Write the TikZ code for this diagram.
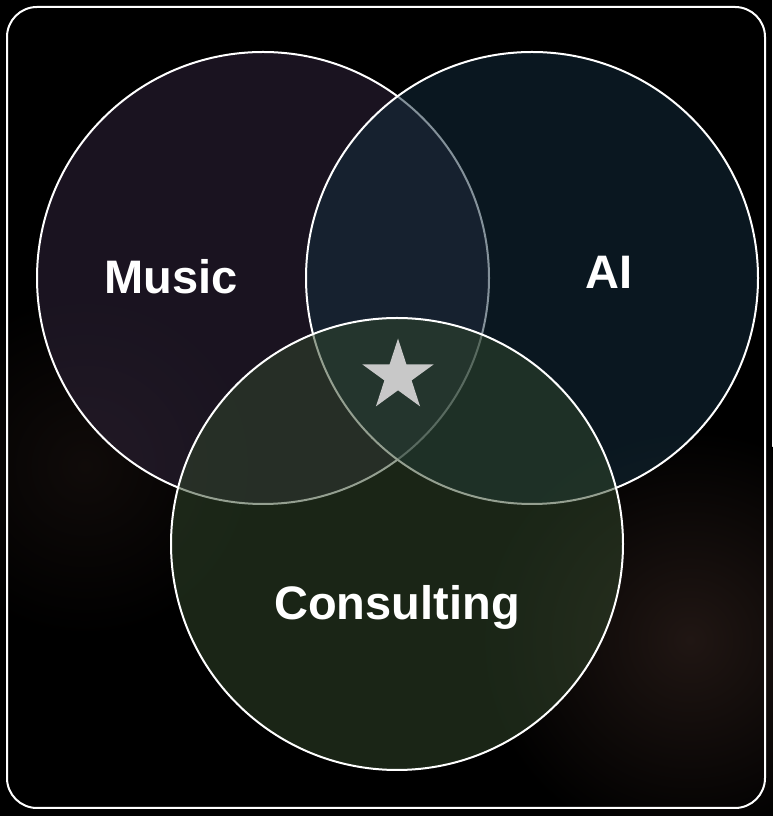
\documentclass[tikz,border=0pt]{standalone}
\usepackage{fontspec}
\setmainfont{Liberation Sans}
\usetikzlibrary{shapes.geometric}

\definecolor{musicfill}{RGB}{50,38,62}
\definecolor{aifill}{RGB}{20,46,62}
\definecolor{consultfill}{RGB}{50,72,44}
\definecolor{glow}{RGB}{32,22,19}
\definecolor{stargray}{RGB}{200,200,200}

\begin{document}
\begin{tikzpicture}[x=1pt, y=1pt,
    venn/.style={circle, draw=white, line width=2pt, fill opacity=0.52, minimum size=452pt, inner sep=0pt},
    vlabel/.style={text=white, font=\fontsize{47}{52}\selectfont\bfseries, anchor=base}]
  \useasboundingbox (0,0) rectangle (772,816);
  \fill[black] (0,0) rectangle (772,816);
  % faint glows behind
  \shade[inner color=glow, outer color=black] (690,176) circle (210);
  \shade[inner color=glow!50!black, outer color=black] (85,350) circle (170);
  % frame
  \draw[white, line width=2pt, rounded corners=30pt] (7,8) rectangle (765,809);
  % the three sets
  \node[venn, fill=musicfill] (music) at (263,538) {};
  \node[venn, fill=aifill] (ai) at (532,538) {};
  \node[venn, fill=consultfill] (consult) at (397,272) {};
  \node[vlabel] (musiclbl) at (171,522) {Music};
  \node[vlabel] (ailbl) at (609,527) {AI};
  \node[vlabel] (consultlbl) at (397,196) {Consulting};
  \node[star, star points=5, star point ratio=2.618, fill=stargray, inner sep=0pt, minimum size=75pt] (spark) at (398,440) {};
\end{tikzpicture}
\end{document}
